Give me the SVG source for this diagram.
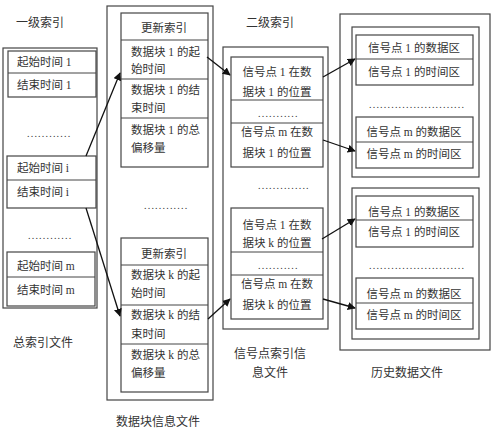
<svg xmlns="http://www.w3.org/2000/svg" width="493" height="432" viewBox="0 0 493 432">
<defs>
<marker id="ah" viewBox="0 0 10 10" refX="9" refY="5" markerWidth="8" markerHeight="8" markerUnits="userSpaceOnUse" orient="auto">
<path d="M0,0 L10,5 L0,10 z" fill="#111"/>
</marker>
</defs>
<style>
rect{fill:none;stroke:#444;stroke-width:1.2}
line.d{stroke:#444;stroke-width:1}
text{font-family:"Liberation Serif","Noto Sans CJK SC",serif;font-size:11.5px;fill:#333;dominant-baseline:central}
.m{text-anchor:middle}
.lb{font-size:12px}
.dot{font-size:10px;letter-spacing:1.2px}
.c line{stroke:#111;stroke-width:1.3;marker-end:url(#ah)}
</style>
<rect x="0" y="0" width="493" height="432" fill="#fff" style="fill:#fff;stroke:none"/>

<g id="col1">
<text class="lb m" x="40" y="23">一级索引</text>
<rect x="3" y="48" width="94" height="260"/>
<g id="c1b1"><rect x="8" y="51" width="88" height="46"/><line class="d" x1="8" y1="73" x2="96" y2="73"/>
<text x="17" y="62">起始时间 1</text><text x="17" y="85">结束时间 1</text></g>
<text class="dot" x="27" y="133">............</text>
<g id="c1bi"><rect x="7" y="156" width="89" height="52"/><line class="d" x1="7" y1="180" x2="96" y2="180"/>
<text x="17" y="168">起始时间 i</text><text x="17" y="192">结束时间 i</text></g>
<text class="dot" x="28" y="235">............</text>
<g id="c1bm"><rect x="7" y="252" width="88" height="54"/><line class="d" x1="7" y1="277" x2="95" y2="277"/>
<text x="17" y="266">起始时间 m</text><text x="17" y="290">结束时间 m</text></g>
<text class="lb m" x="43" y="343">总索引文件</text>
</g>

<g id="col2">
<rect x="107" y="6" width="106" height="394"/>
<g id="c2b1"><rect x="121" y="13" width="87" height="154"/>
<line class="d" x1="121" y1="40" x2="208" y2="40"/><line class="d" x1="121" y1="79" x2="208" y2="79"/><line class="d" x1="121" y1="118" x2="208" y2="118"/>
<text class="m" x="164" y="28">更新索引</text>
<text x="131" y="52">数据块 1 的起</text><text x="131" y="69">始时间</text>
<text x="131" y="90">数据块 1 的结</text><text x="131" y="108">束时间</text>
<text x="131" y="130">数据块 1 的总</text><text x="131" y="148">偏移量</text></g>
<text class="dot" x="144" y="205">............</text>
<g id="c2bk"><rect x="121" y="238" width="87" height="154"/>
<line class="d" x1="121" y1="265" x2="208" y2="265"/><line class="d" x1="121" y1="305" x2="208" y2="305"/><line class="d" x1="121" y1="344" x2="208" y2="344"/>
<text class="m" x="164" y="254">更新索引</text>
<text x="131" y="275">数据块 k 的起</text><text x="131" y="293">始时间</text>
<text x="131" y="315">数据块 k 的结</text><text x="131" y="334">束时间</text>
<text x="131" y="355">数据块 k 的总</text><text x="131" y="373">偏移量</text></g>
<text class="lb m" x="158" y="422">数据块信息文件</text>
</g>

<g id="col3">
<text class="lb m" x="270" y="23">二级索引</text>
<rect x="223" y="47" width="105" height="282"/>
<g id="c3b1"><rect x="231" y="57" width="92" height="110"/>
<line class="d" x1="231" y1="100" x2="323" y2="100"/><line class="d" x1="231" y1="123" x2="323" y2="123"/>
<text class="m" x="277" y="72">信号点 1 在数</text><text class="m" x="277" y="92">据块 1 的位置</text>
<text class="dot" x="258" y="113">...........</text>
<text class="m" x="277" y="132">信号点 m 在数</text><text class="m" x="277" y="153">据块 1 的位置</text></g>
<text class="dot" x="258" y="185">..............</text>
<g id="c3bk"><rect x="231" y="208" width="92" height="111"/>
<line class="d" x1="231" y1="252" x2="323" y2="252"/><line class="d" x1="231" y1="275" x2="323" y2="275"/>
<text class="m" x="277" y="225">信号点 1 在数</text><text class="m" x="277" y="243">据块 k 的位置</text>
<text class="dot" x="258" y="265">...........</text>
<text class="m" x="277" y="284">信号点 m 在数</text><text class="m" x="277" y="305">据块 k 的位置</text></g>
<text class="lb m" x="270" y="354">信号点索引信</text>
<text class="lb m" x="270" y="373">息文件</text>
</g>

<g id="col4">
<rect x="340" y="14" width="150" height="336"/>
<g id="c4g1"><rect x="352" y="27" width="127" height="150"/>
<rect x="356" y="35" width="117" height="50"/><line class="d" x1="356" y1="59" x2="473" y2="59"/>
<text class="m" x="414" y="48">信号点 1 的数据区</text><text class="m" x="414" y="72">信号点 1 的时间区</text>
<text class="dot" x="369" y="104">..........................</text>
<rect x="356" y="117" width="117" height="51"/><line class="d" x1="356" y1="142" x2="473" y2="142"/>
<text class="m" x="414" y="132">信号点 m 的数据区</text><text class="m" x="414" y="154">信号点 m 的时间区</text></g>
<g id="c4g2"><rect x="352" y="188" width="127" height="151"/>
<rect x="356" y="196" width="117" height="51"/><line class="d" x1="356" y1="220" x2="473" y2="220"/>
<text class="m" x="414" y="212">信号点 1 的数据区</text><text class="m" x="414" y="232">信号点 1 的时间区</text>
<text class="dot" x="369" y="265">..........................</text>
<rect x="356" y="278" width="117" height="51"/><line class="d" x1="356" y1="303" x2="473" y2="303"/>
<text class="m" x="414" y="294">信号点 m 的数据区</text><text class="m" x="414" y="315">信号点 m 的时间区</text></g>
<text class="lb m" x="407" y="373">历史数据文件</text>
</g>

<g id="connectors" class="c">
<line x1="86" y1="156" x2="120" y2="73"/>
<line x1="86" y1="208" x2="120" y2="316"/>
<line x1="207" y1="57" x2="230" y2="75"/>
<line x1="208" y1="319" x2="230" y2="299"/>
<line x1="323" y1="77" x2="355" y2="59"/>
<line x1="323" y1="140" x2="355" y2="151"/>
<line x1="322" y1="239" x2="355" y2="219"/>
<line x1="323" y1="299" x2="355" y2="308"/>
</g>
</svg>
